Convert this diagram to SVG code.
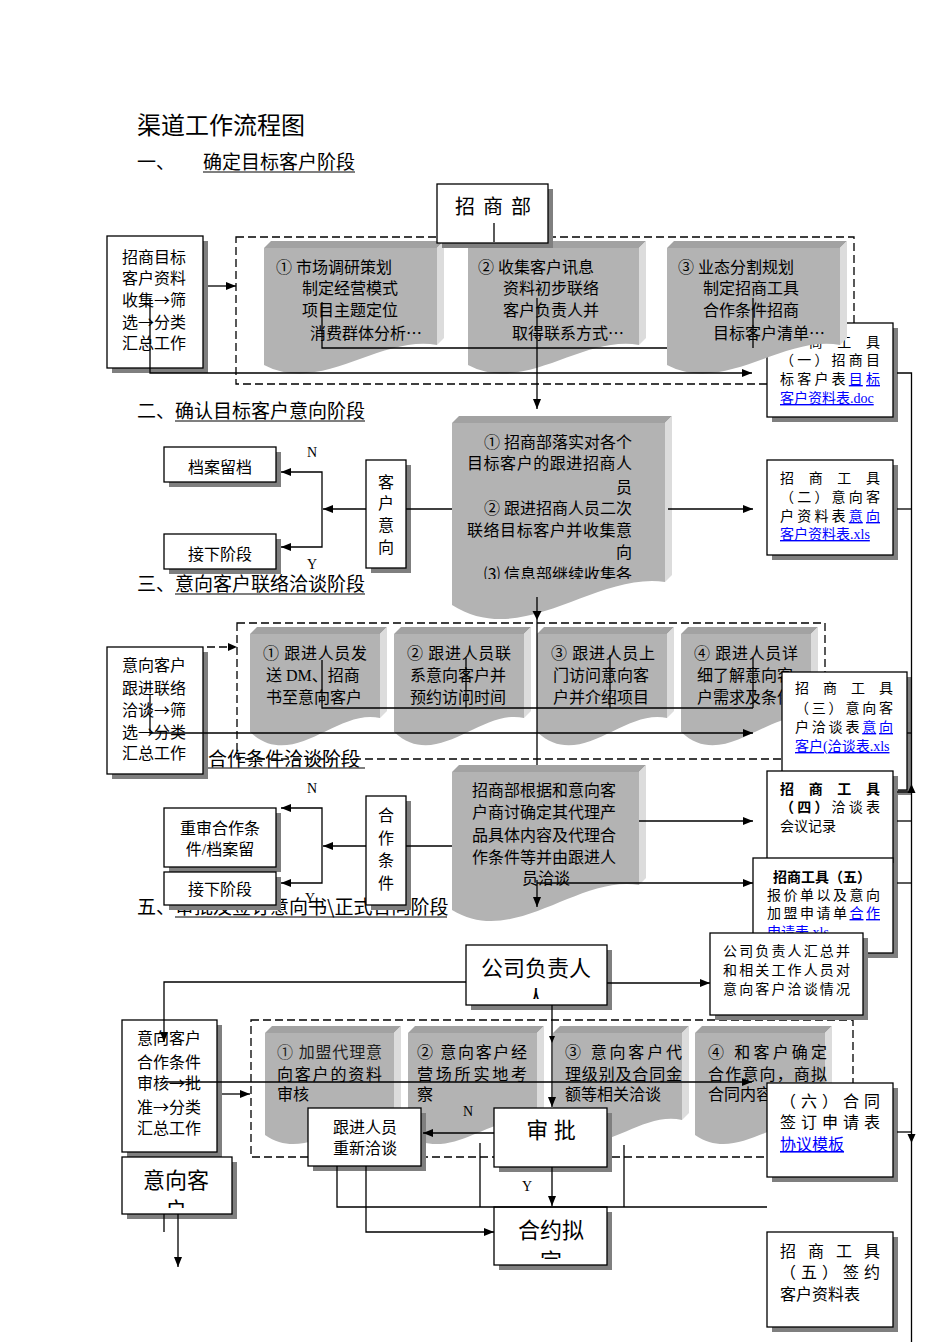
<svg xmlns="http://www.w3.org/2000/svg" width="950" height="1344" viewBox="0 0 950 1344">
<style>
.t{font-family:"Liberation Serif","Noto Sans CJK SC",serif;font-size:16px;fill:#000}
.s{font-size:14px}
.l{font-size:22px}
.m{text-anchor:middle}
.e{text-anchor:end}
.bd{font-weight:bold}
.h{font-family:"Noto Sans CJK SC","Liberation Sans",sans-serif;font-size:19px;fill:#000}
.lk{fill:#0000ff;text-decoration:underline}
.el{font-family:"Noto Sans CJK SC",sans-serif}
.bx{fill:#fff;stroke:#000;stroke-width:1.3}
.sh{fill:#7f7f7f}
.dm{fill:#b3b3b3}
.dt{fill:#a2a2a2}
.dr{fill:#dcdcdc}
.c{stroke:#000;stroke-width:1.3;fill:none}
.ca{stroke:#000;stroke-width:1.3;fill:none;marker-end:url(#a)}
.dash{stroke:#000;stroke-width:1.3;fill:none;stroke-dasharray:8 4}
.ul{stroke:#000;stroke-width:1.2}
</style>
<defs>
<marker id="a" viewBox="0 0 10 8" refX="10" refY="4" markerWidth="10" markerHeight="8" markerUnits="userSpaceOnUse" orient="auto"><path d="M0,0 L10,4 L0,8 z" fill="#000"/></marker>
<clipPath id="c4"><rect x="452" y="416" width="220" height="163"/></clipPath>
<clipPath id="cgs"><rect x="466" y="945" width="141" height="54"/></clipPath>
<clipPath id="chy"><rect x="494" y="1207" width="113" height="52"/></clipPath>
<clipPath id="cyx"><rect x="122" y="1157" width="110" height="51"/></clipPath>
</defs>

<g id="headings">
<text class="h" x="137" y="134" style="font-size:24px">渠道工作流程图</text>
<text class="h" x="137" y="169">一、</text>
<text class="h" x="203" y="169">确定目标客户阶段</text>
<line class="ul" x1="203" y1="172" x2="355" y2="172"/>
<text class="h" x="137" y="418">二、</text>
<text class="h" x="175" y="418">确认目标客户意向阶段</text>
<line class="ul" x1="175" y1="421" x2="365" y2="421"/>
<text class="h" x="137" y="591">三、</text>
<text class="h" x="175" y="591">意向客户联络洽谈阶段</text>
<line class="ul" x1="175" y1="594" x2="365" y2="594"/>
<text class="h" x="208" y="766">合作条件洽谈阶段</text>
<line class="ul" x1="207" y1="768" x2="365" y2="768"/>
<text class="h" x="137" y="914">五、</text>
<text class="h" x="175" y="914">审批及签订意向书\正式合同阶段</text>
<line class="ul" x1="175" y1="917" x2="447" y2="917"/>
</g>

<g id="groups">
<rect class="dash" x="236" y="237" width="618" height="147"/>
<rect class="dash" x="237" y="623" width="588" height="136"/>
<rect class="dash" x="251" y="1020" width="602" height="137"/>
</g>

<g id="tool1">
<rect class="sh" x="772" y="328" width="126" height="94"/>
<rect class="bx" x="767" y="323" width="126" height="94"/>
<text class="t s" x="780" y="347" textLength="100" lengthAdjust="spacing">招商工具</text>
<text class="t s" x="780" y="365" textLength="100" lengthAdjust="spacing">（一）招商目</text>
<text class="t s" x="780" y="384" textLength="100" lengthAdjust="spacing">标客户表<tspan class="lk">目标</tspan></text>
<text class="t s lk" x="780" y="403">客户资料表.doc</text>
</g>

<g id="doc1-1">
<path class="dm" d="M264,248 H437 V345 C379.3,335 321.7,395 264,365 Z"/>
<path class="dt" d="M264,248 L271,241 H444 L437,248 Z"/>
<path class="dr" d="M437,248 L444,241 V338 L437,345 Z"/>
<text class="t" x="276" y="273"><tspan class="el">①</tspan> 市场调研策划</text>
<text class="t" x="302" y="294">制定经营模式</text>
<text class="t" x="302" y="316">项目主题定位</text>
<text class="t" x="310" y="339">消费群体分析<tspan class="el">…</tspan></text>
</g>
<g id="doc1-2">
<path class="dm" d="M468,248 H639 V345 C582,335 525,395 468,365 Z"/>
<path class="dt" d="M468,248 L475,241 H646 L639,248 Z"/>
<path class="dr" d="M639,248 L646,241 V338 L639,345 Z"/>
<text class="t" x="478" y="273"><tspan class="el">②</tspan> 收集客户讯息</text>
<text class="t" x="503" y="294">资料初步联络</text>
<text class="t" x="503" y="316">客户负责人并</text>
<text class="t" x="512" y="339">取得联系方式<tspan class="el">…</tspan></text>
</g>
<g id="doc1-3">
<path class="dm" d="M667,248 H840 V345 C782.3,335 724.7,395 667,365 Z"/>
<path class="dt" d="M667,248 L674,241 H847 L840,248 Z"/>
<path class="dr" d="M840,248 L847,241 V338 L840,345 Z"/>
<text class="t" x="678" y="273"><tspan class="el">③</tspan> 业态分割规划</text>
<text class="t" x="703" y="294">制定招商工具</text>
<text class="t" x="703" y="316">合作条件招商</text>
<text class="t" x="713" y="339">目标客户清单<tspan class="el">…</tspan></text>
</g>

<g id="zsb">
<rect class="sh" x="442" y="189" width="111" height="59"/>
<rect class="bx" x="437" y="184" width="111" height="59"/>
<text class="t" x="455" y="214" style="font-size:20px" textLength="76" lengthAdjust="spacing">招商部</text>
</g>

<g id="left1">
<rect class="sh" x="112" y="241" width="96" height="132"/>
<rect class="bx" x="107" y="236" width="96" height="132"/>
<text class="t" x="122" y="263">招商目标</text>
<text class="t" x="122" y="284">客户资料</text>
<text class="t" x="122" y="306">收集<tspan class="el">→</tspan>筛</text>
<text class="t" x="122" y="328">选<tspan class="el">→</tspan>分类</text>
<text class="t" x="122" y="349">汇总工作</text>
</g>

<g id="dadang">
<rect class="sh" x="169" y="452" width="112" height="35"/>
<rect class="bx" x="164" y="447" width="112" height="35"/>
<text class="t m" x="220" y="473">档案留档</text>
</g>
<g id="jiexia1">
<rect class="sh" x="169" y="539" width="112" height="35"/>
<rect class="bx" x="164" y="534" width="112" height="35"/>
<text class="t m" x="220" y="560">接下阶段</text>
</g>
<g id="kehuyixiang">
<rect class="sh" x="371" y="465" width="40" height="108"/>
<rect class="bx" x="366" y="460" width="40" height="108"/>
<text class="t m" x="386" y="488">客</text>
<text class="t m" x="386" y="509">户</text>
<text class="t m" x="386" y="531">意</text>
<text class="t m" x="386" y="553">向</text>
</g>

<g id="doc2">
<path class="dm" d="M452,423 H665 V582 C594,572 523,650 452,605 Z"/>
<path class="dt" d="M452,423 L459,416 H672 L665,423 Z"/>
<path class="dr" d="M665,423 L672,416 V575 L665,582 Z"/>
<g clip-path="url(#c4)">
<text class="t e" x="632" y="448"><tspan class="el">①</tspan> 招商部落实对各个</text>
<text class="t" x="467" y="469" textLength="165" lengthAdjust="spacing">目标客户的跟进招商人</text>
<text class="t e" x="632" y="493">员</text>
<text class="t e" x="632" y="514"><tspan class="el">②</tspan> 跟进招商人员二次</text>
<text class="t" x="467" y="536" textLength="165" lengthAdjust="spacing">联络目标客户并收集意</text>
<text class="t e" x="632" y="558">向</text>
<text class="t e" x="632" y="580"><tspan class="el">⑶</tspan> 信息部继续收集各</text>
</g>
</g>

<g id="tool2">
<rect class="sh" x="772" y="465" width="126" height="95"/>
<rect class="bx" x="767" y="460" width="126" height="95"/>
<text class="t s" x="780" y="483" textLength="100" lengthAdjust="spacing">招商工具</text>
<text class="t s" x="780" y="502" textLength="100" lengthAdjust="spacing">（二）意向客</text>
<text class="t s" x="780" y="521" textLength="100" lengthAdjust="spacing">户资料表<tspan class="lk">意向</tspan></text>
<text class="t s lk" x="780" y="539">客户资料表.xls</text>
</g>

<g id="doc3-1">
<path class="dm" d="M250,634 H380 V718 C336.7,708 293.3,772 250,732 Z"/>
<path class="dt" d="M250,634 L257,627 H387 L380,634 Z"/>
<path class="dr" d="M380,634 L387,627 V711 L380,718 Z"/>
<text class="t" x="263" y="659" textLength="104" lengthAdjust="spacing"><tspan class="el">①</tspan> 跟进人员发</text>
<text class="t" x="266" y="681">送 DM、招商</text>
<text class="t" x="266" y="703">书至意向客户</text>
</g>
<g id="doc3-2">
<path class="dm" d="M394,634 H524 V718 C480.7,708 437.3,772 394,732 Z"/>
<path class="dt" d="M394,634 L401,627 H531 L524,634 Z"/>
<path class="dr" d="M524,634 L531,627 V711 L524,718 Z"/>
<text class="t" x="407" y="659" textLength="104" lengthAdjust="spacing"><tspan class="el">②</tspan> 跟进人员联</text>
<text class="t" x="410" y="681">系意向客户并</text>
<text class="t" x="410" y="703">预约访问时间</text>
</g>
<g id="doc3-3">
<path class="dm" d="M537,634 H667 V718 C623.7,708 580.3,772 537,732 Z"/>
<path class="dt" d="M537,634 L544,627 H674 L667,634 Z"/>
<path class="dr" d="M667,634 L674,627 V711 L667,718 Z"/>
<text class="t" x="551" y="659" textLength="104" lengthAdjust="spacing"><tspan class="el">③</tspan> 跟进人员上</text>
<text class="t" x="553" y="681">门访问意向客</text>
<text class="t" x="553" y="703">户并介绍项目</text>
</g>
<g id="doc3-4">
<path class="dm" d="M681,634 H811 V718 C767.7,708 724.3,772 681,732 Z"/>
<path class="dt" d="M681,634 L688,627 H818 L811,634 Z"/>
<path class="dr" d="M811,634 L818,627 V711 L811,718 Z"/>
<text class="t" x="694" y="659" textLength="104" lengthAdjust="spacing"><tspan class="el">④</tspan> 跟进人员详</text>
<text class="t" x="697" y="681">细了解意向客</text>
<text class="t" x="697" y="703">户需求及条件</text>
</g>

<g id="left3">
<rect class="sh" x="112" y="652" width="96" height="127"/>
<rect class="bx" x="107" y="647" width="96" height="127"/>
<text class="t" x="122" y="671">意向客户</text>
<text class="t" x="122" y="694">跟进联络</text>
<text class="t" x="122" y="716">洽谈<tspan class="el">→</tspan>筛</text>
<text class="t" x="122" y="738">选<tspan class="el">→</tspan>分类</text>
<text class="t" x="122" y="759">汇总工作</text>
</g>

<g id="tool3">
<rect class="sh" x="787" y="677" width="125" height="118"/>
<rect class="bx" x="782" y="672" width="125" height="118"/>
<text class="t s" x="795" y="693" textLength="98" lengthAdjust="spacing">招商工具</text>
<text class="t s" x="795" y="713" textLength="98" lengthAdjust="spacing">（三）意向客</text>
<text class="t s" x="795" y="732" textLength="98" lengthAdjust="spacing">户洽谈表<tspan class="lk">意向</tspan></text>
<text class="t s lk" x="795" y="751">客户(洽谈表.xls</text>
</g>

<g id="doc4">
<path class="dm" d="M452,772 H639 V885 C576.7,875 514.3,948 452,910 Z"/>
<path class="dt" d="M452,772 L459,765 H646 L639,772 Z"/>
<path class="dr" d="M639,772 L646,765 V878 L639,885 Z"/>
<text class="t m" x="544" y="796">招商部根据和意向客</text>
<text class="t m" x="544" y="818">户商讨确定其代理产</text>
<text class="t m" x="544" y="841">品具体内容及代理合</text>
<text class="t m" x="544" y="863">作条件等并由跟进人</text>
<text class="t m" x="546" y="884">员洽谈</text>
</g>

<g id="chongshen">
<rect class="sh" x="169" y="813" width="112" height="59"/>
<rect class="bx" x="164" y="808" width="112" height="59"/>
<text class="t m" x="220" y="834">重审合作条</text>
<text class="t m" x="220" y="855">件/档案留</text>
</g>
<g id="jiexia2">
<rect class="sh" x="169" y="877" width="112" height="33"/>
<rect class="bx" x="164" y="872" width="112" height="33"/>
<text class="t m" x="220" y="895">接下阶段</text>
</g>
<g id="hezuotiaojian">
<rect class="sh" x="371" y="801" width="40" height="109"/>
<rect class="bx" x="366" y="796" width="40" height="109"/>
<text class="t m" x="386" y="821">合</text>
<text class="t m" x="386" y="844">作</text>
<text class="t m" x="386" y="866">条</text>
<text class="t m" x="386" y="889">件</text>
</g>

<g id="tool4">
<rect class="sh" x="772" y="776" width="126" height="95"/>
<rect class="bx" x="767" y="771" width="126" height="95"/>
<text class="t s bd" x="780" y="794" textLength="100" lengthAdjust="spacing">招商工具</text>
<text class="t s" x="780" y="812" textLength="100" lengthAdjust="spacing"><tspan class="bd">（四）</tspan>洽谈表</text>
<text class="t s" x="780" y="831">会议记录</text>
</g>
<g id="tool5">
<rect class="sh" x="758" y="863" width="140" height="95"/>
<rect class="bx" x="753" y="858" width="140" height="95"/>
<text class="t s bd" x="773" y="882">招商工具（五）</text>
<text class="t s" x="767" y="900" textLength="113" lengthAdjust="spacing">报价单以及意向</text>
<text class="t s" x="767" y="918" textLength="113" lengthAdjust="spacing">加盟申请单<tspan class="lk">合作</tspan></text>
<text class="t s lk" x="767" y="937">申请表.xls</text>
</g>
<g id="huizong">
<rect class="sh" x="715" y="938" width="153" height="82"/>
<rect class="bx" x="710" y="933" width="153" height="82"/>
<text class="t s" x="723" y="956" textLength="127" lengthAdjust="spacing">公司负责人汇总并</text>
<text class="t s" x="723" y="975" textLength="127" lengthAdjust="spacing">和相关工作人员对</text>
<text class="t s" x="723" y="994" textLength="127" lengthAdjust="spacing">意向客户洽谈情况</text>
</g>

<g id="doc5-1">
<path class="dm" d="M265,1033 H394 V1120 C351,1110 308,1165 265,1135 Z"/>
<path class="dt" d="M265,1033 L272,1026 H401 L394,1033 Z"/>
<path class="dr" d="M394,1033 L401,1026 V1113 L394,1120 Z"/>
<text class="t" x="277" y="1058" textLength="105" lengthAdjust="spacing" style="fill:#222"><tspan class="el">①</tspan> 加盟代理意</text>
<text class="t" x="277" y="1080" textLength="105" lengthAdjust="spacing">向客户的资料</text>
<text class="t" x="277" y="1100">审核</text>
</g>
<g id="doc5-2">
<path class="dm" d="M408,1033 H537 V1120 C494,1110 451,1165 408,1135 Z"/>
<path class="dt" d="M408,1033 L415,1026 H544 L537,1033 Z"/>
<path class="dr" d="M537,1033 L544,1026 V1113 L537,1120 Z"/>
<text class="t" x="417" y="1058" textLength="110" lengthAdjust="spacing"><tspan class="el">②</tspan> 意向客户经</text>
<text class="t" x="417" y="1080" textLength="110" lengthAdjust="spacing">营场所实地考</text>
<text class="t" x="417" y="1100">察</text>
</g>
<g id="doc5-3">
<path class="dm" d="M553,1033 H682 V1120 C639,1110 596,1165 553,1135 Z"/>
<path class="dt" d="M553,1033 L560,1026 H689 L682,1033 Z"/>
<path class="dr" d="M682,1033 L689,1026 V1113 L682,1120 Z"/>
<text class="t" x="565" y="1058" textLength="117" lengthAdjust="spacing"><tspan class="el">③</tspan> 意向客户代</text>
<text class="t" x="565" y="1080" textLength="117" lengthAdjust="spacing">理级别及合同金</text>
<text class="t" x="565" y="1100">额等相关洽谈</text>
</g>
<g id="doc5-4">
<path class="dm" d="M695,1033 H825 V1120 C781.7,1110 738.3,1165 695,1135 Z"/>
<path class="dt" d="M695,1033 L702,1026 H832 L825,1033 Z"/>
<path class="dr" d="M825,1033 L832,1026 V1113 L825,1120 Z"/>
<text class="t" x="708" y="1058" textLength="119" lengthAdjust="spacing"><tspan class="el">④</tspan> 和客户确定</text>
<text class="t" x="708" y="1080" textLength="119" lengthAdjust="spacing">合作意向，商拟</text>
<text class="t" x="708" y="1100">合同内容<tspan class="el">…</tspan></text>
</g>

<g id="tool6">
<rect class="sh" x="772" y="1088" width="126" height="94"/>
<rect class="bx" x="767" y="1083" width="126" height="94"/>
<text class="t" x="780" y="1107" textLength="100" lengthAdjust="spacing">（六）合同</text>
<text class="t" x="780" y="1128" textLength="100" lengthAdjust="spacing">签订申请表</text>
<text class="t lk" x="780" y="1150">协议模板</text>
</g>

<g id="gongsifuzeren">
<rect class="sh" x="471" y="950" width="141" height="60"/>
<rect class="bx" x="466" y="945" width="141" height="60"/>
<g clip-path="url(#cgs)">
<text class="t l m" x="536" y="976">公司负责人</text>
<text class="t l m" x="536" y="1006">人</text>
</g>
</g>

<g id="left5">
<rect class="sh" x="127" y="1025" width="95" height="132"/>
<rect class="bx" x="122" y="1020" width="95" height="132"/>
<text class="t" x="137" y="1044">意向客户</text>
<text class="t" x="137" y="1068">合作条件</text>
<text class="t" x="137" y="1089">审核<tspan class="el">→</tspan>批</text>
<text class="t" x="137" y="1113">准<tspan class="el">→</tspan>分类</text>
<text class="t" x="137" y="1134">汇总工作</text>
</g>

<g id="genjin">
<rect class="sh" x="313" y="1113" width="113" height="58"/>
<rect class="bx" x="308" y="1108" width="113" height="58"/>
<text class="t m" x="365" y="1133">跟进人员</text>
<text class="t m" x="365" y="1154">重新洽谈</text>
</g>
<g id="shenpi">
<rect class="sh" x="499" y="1113" width="113" height="59"/>
<rect class="bx" x="494" y="1108" width="113" height="59"/>
<text class="t l m" x="551" y="1138">审 批</text>
</g>
<g id="heyue">
<rect class="sh" x="499" y="1212" width="113" height="58"/>
<rect class="bx" x="494" y="1207" width="113" height="58"/>
<g clip-path="url(#chy)">
<text class="t l m" x="551" y="1238">合约拟</text>
<text class="t l m" x="551" y="1269">定</text>
</g>
</g>
<g id="tool7">
<rect class="sh" x="772" y="1237" width="126" height="95"/>
<rect class="bx" x="767" y="1232" width="126" height="95"/>
<text class="t" x="780" y="1257" textLength="100" lengthAdjust="spacing">招商工具</text>
<text class="t" x="780" y="1278" textLength="100" lengthAdjust="spacing">（五）签约</text>
<text class="t" x="780" y="1300">客户资料表</text>
</g>
<g id="yixiangkehu">
<rect class="sh" x="127" y="1162" width="110" height="57"/>
<rect class="bx" x="122" y="1157" width="110" height="57"/>
<g clip-path="url(#cyx)">
<text class="t l m" x="176" y="1188">意向客</text>
<text class="t l m" x="176" y="1218">户</text>
</g>
</g>

<g id="connectors">
<path class="c" d="M494,223 V242"/>
<path class="ca" d="M208,286 H236"/>
<path class="ca" d="M150,298 V373 H752"/>
<path class="c" d="M322,302 V348 H667"/>
<path class="ca" d="M537,298 V409"/>
<path class="c" d="M753,298 V348"/>
<path class="c" d="M897,373 H911.5 V1342"/>

<path class="c" d="M406,509 H452"/>
<path class="ca" d="M366,509 H323"/>
<path class="ca" d="M322,509 V472 H281"/>
<path class="ca" d="M322,509 V547 H281"/>
<path class="ca" d="M668,509 H753"/>
<path class="c" d="M897,509 H911.5"/>
<path class="c" d="M537,597 V765"/>
<polygon points="532.5,611 541.5,611 537,620" fill="#000"/>

<path class="dash" d="M207,647 H228"/>
<polygon points="228,643 237,647 228,651" fill="#000"/>
<path class="c" d="M322,660 V708 H753"/>
<path class="c" d="M466,658 V708"/>
<path class="c" d="M610,655 V708"/>
<path class="c" d="M753,657 V708"/>
<path class="ca" d="M150,695 V733 H753"/>
<path class="c" d="M907,733 H911.5"/>

<path class="c" d="M406,846 H452"/>
<path class="ca" d="M366,846 H323"/>
<path class="ca" d="M322,846 V808 H281"/>
<path class="ca" d="M322,846 V883 H281"/>
<path class="ca" d="M639,821 H753"/>
<path class="ca" d="M537,883 H753"/>
<path class="ca" d="M537,880 V907"/>
<path class="c" d="M897,792 H911.5"/>
<polygon points="911.5,784 907.5,793 915.5,793" fill="#000"/>
<path class="c" d="M897,821 H911.5"/>
<path class="c" d="M897,883 H911.5"/>

<path class="ca" d="M466,982 H164 V1042"/>
<path class="ca" d="M607,983 H710"/>
<path class="ca" d="M552,1005 V1107"/>
<polygon points="549,1036 555,1036 552,1043" fill="#000"/>
<path class="ca" d="M222,1094 H250"/>
<path class="ca" d="M164,1082 H752"/>
<path class="ca" d="M494,1133 H423"/>
<path class="ca" d="M552,1167 V1206"/>
<path class="c" d="M337,1166 V1207 H767"/>
<path class="c" d="M480,1143 V1207"/>
<path class="c" d="M624,1145 V1207"/>
<path class="ca" d="M366,1166 V1232 H494"/>
<path class="c" d="M897,1132 H911.5"/>
<polygon points="907.5,1134 915.5,1134 911.5,1143" fill="#000"/>
<path class="c" d="M164,1214 V1232"/>
<path class="ca" d="M178,1214 V1267"/>
</g>

<g id="labels">
<text class="t s m" x="312" y="457">N</text>
<text class="t s m" x="312" y="569">Y</text>
<text class="t s m" x="312" y="793">N</text>
<text class="t s m" x="310" y="903">Y</text>
<text class="t s m" x="468" y="1116">N</text>
<text class="t s m" x="527" y="1191">Y</text>
</g>
</svg>
